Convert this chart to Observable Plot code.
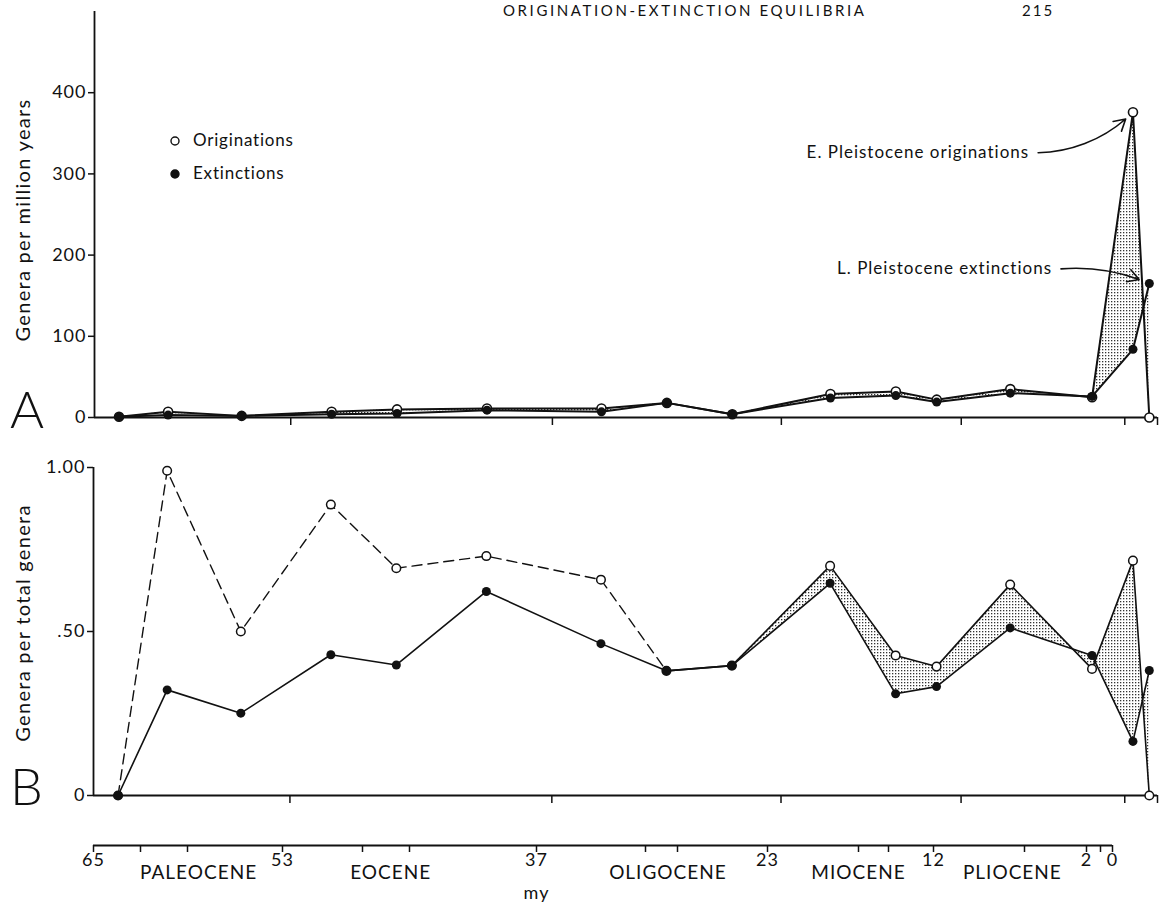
<!DOCTYPE html>
<html><head><meta charset="utf-8">
<script src="https://cdn.jsdelivr.net/npm/d3@7"></script>
<script src="https://cdn.jsdelivr.net/npm/@observablehq/plot@0.6"></script>
<style>
html,body{margin:0;padding:0;background:#fff;}
#fig{position:relative;width:1163px;height:904px;overflow:hidden;font-family:Lato,"DejaVu Sans",sans-serif;color:#111;}
#fig > svg{position:absolute;left:0;top:0;}
.lbl{position:absolute;white-space:nowrap;line-height:1.2;}
</style></head><body>
<div id="fig"></div>
<script>
// ---------- data ----------
// interval mid-point ages (million years)
const ages = [63.5, 60.5, 56, 50.5, 46.5, 41, 34, 30, 26, 20, 16, 13.5, 9, 4, 1.5, 0.5];
// A: genera per million years
const origRate = [1, 7, 2, 7, 10, 11, 11, 18, 4, 29, 32, 22, 35, 25, 376, 0];
const extRate  = [1, 3, 2, 4, 5, 9, 7, 18, 4, 24, 27, 19, 30, 26, 84, 165];
// B: genera per total genera
const origProp = [0, 0.99, 0.50, 0.887, 0.693, 0.73, 0.658, 0.38, 0.396, 0.70, 0.427, 0.393, 0.643, 0.386, 0.716, 0];
const extProp  = [0, 0.322, 0.251, 0.429, 0.398, 0.622, 0.463, 0.38, 0.396, 0.647, 0.31, 0.332, 0.511, 0.427, 0.165, 0.381];
// time axis
const epochTicks = [53, 37, 23, 12, 2, 0];
const majorTicks = [65, 53, 37, 23, 12, 2, 0];
const minorTicks = [62, 59, 48, 45, 31, 29, 17, 15, 6, 1];
const epochs = ["PALEOCENE", "EOCENE", "OLIGOCENE", "MIOCENE", "PLIOCENE"];
const epochLabelAge = [58.3, 46.2, 29.6, 17.0, 6.8];
const rateTicks = [0, 100, 200, 300, 400];
const propTicks = [0, 0.5, 1];
const noteOrig = [{label: "E. Pleistocene originations", age: 7.3, value: 326, tipAge: ages[14], tipValue: origRate[14]}];
const noteExt  = [{label: "L. Pleistocene extinctions", age: 5.9, value: 183, tipAge: ages[15], tipValue: extRate[15]}];

// ---------- build ----------
const W = 1163, H = 904;
const rows = ages.map((a, i) => ({age: a, origRate: origRate[i], extRate: extRate[i], origProp: origProp[i], extProp: extProp[i]}));
const ink = "#111";
const fig = document.getElementById("fig");
const baseStyle = {background: "transparent", fontFamily: "Lato, 'DejaVu Sans', sans-serif", color: ink, overflow: "visible", letterSpacing: "1px"};

function addPattern(svg, id) {
  const ns = "http://www.w3.org/2000/svg";
  const defs = document.createElementNS(ns, "defs");
  const pat = document.createElementNS(ns, "pattern");
  pat.setAttribute("id", id);
  pat.setAttribute("width", 3);
  pat.setAttribute("height", 3);
  pat.setAttribute("patternUnits", "userSpaceOnUse");
  const bg = document.createElementNS(ns, "rect");
  bg.setAttribute("width", 3); bg.setAttribute("height", 3); bg.setAttribute("fill", "#fff");
  const dot = document.createElementNS(ns, "rect");
  dot.setAttribute("x", 1); dot.setAttribute("y", 1); dot.setAttribute("width", 1.3); dot.setAttribute("height", 1.3); dot.setAttribute("fill", "#333");
  pat.appendChild(bg); pat.appendChild(dot); defs.appendChild(pat);
  svg.insertBefore(defs, svg.firstChild);
}

const tickText = {fontSize: 18, letterSpacing: "2.5px"};

// Panel A
const plotA = Plot.plot({
  width: W, height: H,
  marginLeft: 94, marginRight: 6, marginTop: 11, marginBottom: H - 417,
  style: baseStyle,
  x: {domain: [65, 0], axis: null},
  y: {domain: [0, 500], axis: null},
  marks: [
    Plot.areaY(rows, {x: "age", y1: "extRate", y2: "origRate", fill: "url(#stippleA)"}),
    Plot.ruleX([65], {stroke: ink, strokeWidth: 1.8}),
    Plot.ruleY([0], {stroke: ink, strokeWidth: 2}),
    Plot.axisY(rateTicks, {anchor: "left", tickSize: 6, tickPadding: 2, ...tickText, label: null, stroke: ink, strokeWidth: 1.5}),
    Plot.axisX(epochTicks, {anchor: "bottom", tickSize: 8, tickFormat: () => "", label: null, strokeWidth: 1.5}),
    Plot.line(rows, {x: "age", y: "extRate", stroke: ink, strokeWidth: 2}),
    Plot.line(rows, {x: "age", y: "origRate", stroke: ink, strokeWidth: 2}),
    Plot.dot(rows, {x: "age", y: "origRate", r: 4.5, fill: "#fff", stroke: ink, strokeWidth: 1.6}),
    Plot.dot(rows, {x: "age", y: "extRate", r: 4.5, fill: ink}),
    Plot.arrow(noteOrig, {x1: "age", y1: "value", x2: "tipAge", y2: "tipValue", bend: -22, insetEnd: 10, stroke: ink, strokeWidth: 1.6, headLength: 12}),
    Plot.arrow(noteExt, {x1: "age", y1: "value", x2: "tipAge", y2: "tipValue", bend: 14, insetEnd: 11, stroke: ink, strokeWidth: 1.6, headLength: 12}),
    Plot.text([...noteOrig, ...noteExt], {x: "age", y: "value", text: "label", textAnchor: "end", dx: -9, fontSize: 17, letterSpacing: "1.3px", fill: ink})
  ]
});
addPattern(plotA, "stippleA");
fig.appendChild(plotA);

// Panel B
const rowsLate = rows.slice(8);
const plotB = Plot.plot({
  width: W, height: H,
  marginLeft: 93, marginRight: 6, marginTop: 467, marginBottom: H - 795,
  style: baseStyle,
  x: {domain: [65, 0], axis: null},
  y: {domain: [0, 1], axis: null},
  marks: [
    Plot.areaY(rowsLate, {x: "age", y1: "extProp", y2: "origProp", fill: "url(#stippleB)"}),
    Plot.ruleX([65], {stroke: ink, strokeWidth: 1.8}),
    Plot.ruleY([0], {stroke: ink, strokeWidth: 2}),
    Plot.axisY(propTicks, {anchor: "left", tickSize: 6, tickPadding: 2, ...tickText, label: null, strokeWidth: 1.5,
      tickFormat: (d) => d === 0 ? "0" : d.toFixed(2).replace(/^0/, "")}),
    Plot.axisX(epochTicks, {anchor: "bottom", tickSize: 8, tickFormat: () => "", label: null, strokeWidth: 1.5}),
    Plot.line(rows, {x: "age", y: "extProp", stroke: ink, strokeWidth: 1.6}),
    Plot.line(rows.slice(0, 8), {x: "age", y: "origProp", stroke: ink, strokeWidth: 1.4, strokeDasharray: "10,6"}),
    Plot.line(rows.slice(7), {x: "age", y: "origProp", stroke: ink, strokeWidth: 1.6}),
    Plot.dot(rows, {x: "age", y: "origProp", r: 4.3, fill: "#fff", stroke: ink, strokeWidth: 1.5}),
    Plot.dot(rows, {x: "age", y: "extProp", r: 4.5, fill: ink})
  ]
});
addPattern(plotB, "stippleB");
fig.appendChild(plotB);

// Time axis
const bounds = [65, 62, 59, 53, 48, 45, 37, 31, 29, 23, 17, 15, 12, 6, 2, 1, 0];
const boundsPx = [93, 140, 187, 282, 362, 409, 536, 645, 677, 767, 858, 888, 933, 1024, 1086, 1100, 1112];
const plotT = Plot.plot({
  width: W, height: H,
  marginLeft: 93, marginRight: W - 1112, marginTop: 845, marginBottom: H - 845,
  style: baseStyle,
  x: {type: "linear", domain: bounds, range: boundsPx, axis: null},
  y: {domain: [0, 1], axis: null},
  marks: [
    Plot.ruleY([0], {stroke: ink, strokeWidth: 2}),
    Plot.axisX(minorTicks, {anchor: "bottom", tickSize: 7, tickFormat: () => "", label: null, strokeWidth: 1.5}),
    Plot.axisX(majorTicks, {anchor: "bottom", tickSize: 7, tickPadding: 1, fontSize: 18, label: null, strokeWidth: 1.5}),
    Plot.text(epochs, {x: epochLabelAge, y: 0, text: (d) => d, dy: 27, fontSize: 19, fill: ink}),
    Plot.text(["my"], {x: [37], y: 0, text: (d) => d, dy: 48, fontSize: 18, fill: ink})
  ]
});
fig.appendChild(plotT);

// ---------- static text ----------
function label(text, css) {
  const d = document.createElement("div");
  d.className = "lbl";
  d.textContent = text;
  Object.assign(d.style, css);
  fig.appendChild(d);
  return d;
}
label("ORIGINATION-EXTINCTION EQUILIBRIA", {left: "503px", top: "1px", fontSize: "15px", letterSpacing: "2.6px"});
label("215", {left: "1022px", top: "1px", fontSize: "15px", letterSpacing: "2px"});
label("Genera per million years", {left: "22px", top: "220px", fontSize: "20px", letterSpacing: "1.3px", transform: "translate(-50%,-50%) rotate(-90deg)"});
label("Genera per total genera", {left: "22px", top: "623px", fontSize: "20px", letterSpacing: "1.3px", transform: "translate(-50%,-50%) rotate(-90deg)"});
label("A", {left: "10px", top: "377px", fontSize: "52px", fontWeight: "300"});
label("B", {left: "10px", top: "754px", fontSize: "52px", fontWeight: "300"});
// legend
const ns = "http://www.w3.org/2000/svg";
const leg = document.createElementNS(ns, "svg");
leg.setAttribute("width", 20); leg.setAttribute("height", 60);
leg.style.cssText = "position:absolute;left:165px;top:128px;";
[[141, "#fff"], [174, ink]].forEach(([cy, f]) => {
  const c = document.createElementNS(ns, "circle");
  c.setAttribute("cx", 10); c.setAttribute("cy", cy - 128); c.setAttribute("r", 4);
  c.setAttribute("fill", f); c.setAttribute("stroke", ink); c.setAttribute("stroke-width", 1.4);
  leg.appendChild(c);
});
fig.appendChild(leg);
label("Originations", {left: "193px", top: "130px", fontSize: "17px", letterSpacing: "0.8px"});
label("Extinctions", {left: "193px", top: "163px", fontSize: "17px", letterSpacing: "0.8px"});
</script>
</body></html>
